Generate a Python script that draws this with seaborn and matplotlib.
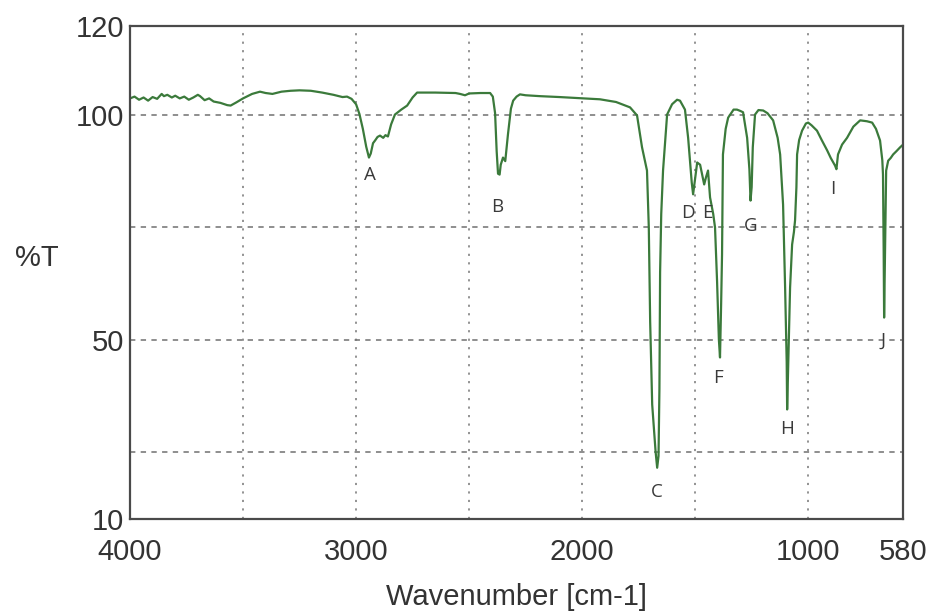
"""IR transmission spectrum with labelled absorption bands."""

import matplotlib.pyplot as plt
import pandas as pd
import seaborn as sns

# traced spectrum: wavenumber [cm-1] and %T
wavenumber = [
    4000, 3980, 3960, 3940, 3920, 3900, 3880, 3860, 3850, 3835, 3815, 3800,
    3780, 3760, 3740, 3720, 3700, 3690, 3670, 3650, 3630, 3600, 3570, 3555,
    3530, 3500, 3460, 3425, 3400, 3370, 3330, 3290, 3250, 3200, 3150, 3100,
    3060, 3040, 3020, 3000, 2985, 2970, 2955, 2943, 2935, 2925, 2916, 2905,
    2894, 2880, 2870, 2859, 2845, 2828, 2800, 2774, 2750, 2730, 2650, 2560,
    2540, 2518, 2500, 2450, 2407, 2395, 2385, 2378, 2372, 2365, 2360, 2350,
    2340, 2328, 2315, 2305, 2290, 2275, 2250, 2186, 2100, 1921, 1850, 1788,
    1757, 1735, 1713, 1705, 1699, 1690, 1675, 1668, 1662, 1658, 1655, 1650,
    1642, 1624, 1602, 1580, 1567, 1545, 1531, 1515, 1509, 1500, 1491, 1478,
    1460, 1452, 1443, 1434, 1420, 1412, 1403, 1395, 1390, 1385, 1381, 1377,
    1365, 1354, 1330, 1315, 1300, 1288, 1270, 1260, 1255, 1250, 1245, 1235,
    1220, 1199, 1180, 1155, 1135, 1124, 1111, 1102, 1095, 1093, 1088, 1080,
    1071, 1063, 1058, 1052, 1049, 1040, 1027, 1010, 1000, 985, 961, 940,
    916, 900, 881, 875, 868, 850, 828, 800, 770, 740, 717, 700,
    682, 672, 669, 666, 664, 660, 655, 646, 635, 624, 610, 593, 580,
]
transmittance = [
    103.8, 104.2, 103.5, 104.0, 103.3, 104.1, 103.7, 104.8, 104.3, 104.6, 104.0, 104.4,
    103.8, 104.2, 103.5, 104.0, 104.6, 104.3, 103.4, 103.8, 103.1, 102.8, 102.3, 102.2,
    102.9, 103.8, 104.8, 105.3, 105.0, 104.8, 105.3, 105.5, 105.6, 105.5, 105.1, 104.6,
    104.1, 104.2, 103.7, 102.5, 100.3, 97.0, 93.0, 90.6, 91.5, 93.8, 94.4, 95.2,
    95.5, 95.0, 95.6, 95.3, 98.0, 100.2, 101.3, 102.2, 104.0, 105.1, 105.1, 105.0,
    104.8, 104.5, 104.9, 105.0, 105.0, 104.2, 100.5, 92.0, 87.0, 86.8, 89.0, 90.6,
    89.8, 95.8, 101.5, 103.3, 104.2, 104.7, 104.5, 104.3, 104.1, 103.6, 103.0, 101.8,
    100.0, 92.9, 87.7, 75.0, 54.0, 35.5, 25.0, 21.4, 24.0, 39.0, 65.0, 78.0,
    87.7, 100.2, 102.5, 103.5, 103.3, 101.3, 95.0, 85.0, 82.4, 86.0, 89.5, 89.0,
    84.6, 86.2, 87.7, 81.7, 78.0, 75.0, 63.0, 50.0, 46.0, 58.0, 69.0, 91.3,
    97.0, 99.5, 101.3, 101.3, 101.0, 100.7, 95.0, 88.0, 81.0, 84.0, 92.9, 100.2,
    101.2, 101.1, 100.5, 98.9, 95.0, 91.3, 80.1, 61.6, 45.0, 34.4, 45.0, 61.6,
    71.2, 74.0, 76.6, 84.0, 91.3, 94.5, 96.6, 98.2, 98.4, 97.8, 96.6, 94.5,
    92.2, 90.5, 88.8, 88.0, 91.3, 93.5, 95.0, 97.5, 98.9, 98.7, 98.4, 97.0,
    94.4, 90.0, 86.8, 70.0, 54.9, 70.0, 87.7, 89.9, 90.5, 91.3, 92.0, 92.9, 93.5,
]

# peak labels
peak_names = ["A", "B", "C", "D", "E", "F", "G", "H", "I", "J"]
peak_x = [2939, 2376, 1668, 1531, 1447, 1399, 1253, 1093, 890, 669]
peak_y = [86.6, 79.5, 16.0, 78.3, 78.3, 41.5, 75.4, 30.0, 83.5, 49.8]

x_ticks = [4000, 3000, 2000, 1000, 580]
y_ticks = [10, 50, 100, 120]

sns.set_theme(style="white")
plt.rcParams["font.family"] = ["Liberation Sans", "DejaVu Sans"]

spec = pd.DataFrame({"wavenumber": wavenumber, "T": transmittance})

fig = plt.figure(figsize=(9.32, 6.14), dpi=100)
ax = fig.add_axes([0.1395, 0.155, 0.8295, 0.803])

# grid: dotted verticals, dashed horizontals
for gx in [3500, 3000, 2500, 2000, 1500, 1000]:
    ax.axvline(gx, color="#8a8a8a", linestyle=(0, (1.2, 3.5)), linewidth=1.3, zorder=0)
for gy in [25, 50, 75, 100]:
    ax.axhline(gy, color="#707070", linestyle=(0, (3.5, 3.5)), linewidth=1.1, zorder=0)

sns.lineplot(data=spec, x="wavenumber", y="T", sort=False, estimator=None,
             color="#3b7a3b", linewidth=1.6, ax=ax)

for name, px, py in zip(peak_names, peak_x, peak_y):
    ax.text(px, py, name, ha="center", va="center", fontsize=13.5,
            color="#3a3a3a", family=["Open Sans", "DejaVu Sans"])

ax.set_xlim(4000, 580)
ax.set_ylim(10, 120)
ax.set_xticks([3500, 3000, 2500, 2000, 1500, 1000], minor=True)
ax.set_xticks(x_ticks)
ax.set_xticklabels([str(t) for t in x_ticks])
ax.set_yticks([25, 75], minor=True)
ax.set_yticks(y_ticks)
ax.tick_params(axis="both", which="both", direction="in", length=7, width=1.3,
               color="#444444", labelsize=21, labelcolor="#333333", pad=4)
ax.tick_params(axis="x", which="major", length=0, pad=14)

ax.set_xlabel("Wavenumber [cm-1]", fontsize=21, color="#333333", labelpad=12)
ax.set_ylabel("%T", fontsize=21, color="#333333", rotation=0)
ax.yaxis.set_label_coords(-0.12, 0.5)

for side in ["left", "right", "top", "bottom"]:
    ax.spines[side].set_color("#4a4a4a")
    ax.spines[side].set_linewidth(1.6)

fig.savefig("out.png", dpi=100)
